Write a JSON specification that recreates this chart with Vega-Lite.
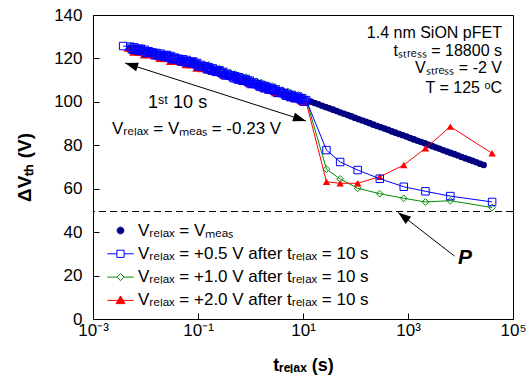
{
 "$schema": "https://vega.github.io/schema/vega-lite/v6.json",
 "width": 420, "height": 304,
 "autosize": {"type": "none"},
 "padding": {"left": 93, "top": 15, "right": 16, "bottom": 70},
 "background": "white",
 "config": {
  "view": {"stroke": "black", "strokeWidth": 1},
  "font": "Liberation Sans",
  "axis": {"domainColor": "black", "tickColor": "black", "labelColor": "black", "titleColor": "black", "grid": false, "labelFont": "Liberation Sans", "titleFont": "Liberation Sans", "titleFontWeight": "bold", "domainWidth": 1, "tickWidth": 1},
  "legend": {"orient": "none", "legendX": 19, "legendY": 207, "padding": 0, "labelFontSize": 17, "labelFont": "Liberation Sans", "labelColor": "black", "rowPadding": 5.3, "symbolSize": 256, "labelOffset": 9, "labelLimit": 400, "symbolOpacity": 1, "symbolStrokeWidth": 1}
 },
 "data": {"values": [
  {"s":"n","t":0.00513,"v":124.7},{"s":"n","t":0.00813,"v":123.5},{"s":"n","t":0.0129,"v":122.4},{"s":"n","t":0.0204,"v":121.2},{"s":"n","t":0.0324,"v":120.1},{"s":"n","t":0.0513,"v":118.9},{"s":"n","t":0.0813,"v":117.6},{"s":"n","t":0.129,"v":116.0},{"s":"n","t":0.204,"v":114.3},{"s":"n","t":0.324,"v":112.7},{"s":"n","t":0.513,"v":111.1},{"s":"n","t":0.813,"v":109.5},{"s":"n","t":1.29,"v":107.9},{"s":"n","t":2.04,"v":106.3},{"s":"n","t":3.24,"v":104.6},{"s":"n","t":5.13,"v":103.0},{"s":"n","t":8.13,"v":101.4},
  {"s":"n","t":14.13,"v":100.1},{"s":"n","t":16.6,"v":99.5},{"s":"n","t":19.5,"v":98.9},{"s":"n","t":22.9,"v":98.2},{"s":"n","t":26.9,"v":97.6},{"s":"n","t":31.6,"v":97.0},{"s":"n","t":37.2,"v":96.4},{"s":"n","t":43.7,"v":95.8},{"s":"n","t":51.3,"v":95.1},{"s":"n","t":60.3,"v":94.5},{"s":"n","t":70.8,"v":93.9},{"s":"n","t":83.2,"v":93.3},{"s":"n","t":97.7,"v":92.6},{"s":"n","t":114.8,"v":92.0},{"s":"n","t":134.9,"v":91.4},{"s":"n","t":158.5,"v":90.8},{"s":"n","t":186.2,"v":90.2},{"s":"n","t":218.8,"v":89.5},{"s":"n","t":257.0,"v":88.9},{"s":"n","t":302.0,"v":88.3},{"s":"n","t":354.8,"v":87.7},{"s":"n","t":416.9,"v":87.1},{"s":"n","t":489.8,"v":86.4},{"s":"n","t":575.4,"v":85.8},{"s":"n","t":676.1,"v":85.2},{"s":"n","t":794.3,"v":84.6},{"s":"n","t":933.3,"v":84.0},{"s":"n","t":1096,"v":83.3},{"s":"n","t":1288,"v":82.7},{"s":"n","t":1514,"v":82.1},{"s":"n","t":1778,"v":81.5},{"s":"n","t":2089,"v":80.9},{"s":"n","t":2455,"v":80.2},{"s":"n","t":2884,"v":79.6},{"s":"n","t":3388,"v":79.0},{"s":"n","t":3981,"v":78.4},{"s":"n","t":4677,"v":77.7},{"s":"n","t":5495,"v":77.1},{"s":"n","t":6457,"v":76.5},{"s":"n","t":7586,"v":75.9},{"s":"n","t":8913,"v":75.3},{"s":"n","t":10471,"v":74.6},{"s":"n","t":12303,"v":74.0},{"s":"n","t":14454,"v":73.4},{"s":"n","t":16982,"v":72.8},{"s":"n","t":19953,"v":72.2},{"s":"n","t":23442,"v":71.5},{"s":"n","t":27542,"v":70.9},
  {"s":"g","t":0.00513,"v":125.8},{"s":"g","t":0.00646,"v":124.7},{"s":"g","t":0.00813,"v":124.7},{"s":"g","t":0.0102,"v":123.5},{"s":"g","t":0.0129,"v":123.3},{"s":"g","t":0.0162,"v":122.9},{"s":"g","t":0.0204,"v":121.8},{"s":"g","t":0.0257,"v":121.8},{"s":"g","t":0.0324,"v":120.6},{"s":"g","t":0.0407,"v":120.4},{"s":"g","t":0.0513,"v":120.0},{"s":"g","t":0.0646,"v":118.9},{"s":"g","t":0.0813,"v":118.8},{"s":"g","t":0.102,"v":117.3},{"s":"g","t":0.129,"v":116.9},{"s":"g","t":0.162,"v":117.0},{"s":"g","t":0.204,"v":115.6},{"s":"g","t":0.257,"v":115.4},{"s":"g","t":0.324,"v":113.9},{"s":"g","t":0.407,"v":113.5},{"s":"g","t":0.513,"v":112.9},{"s":"g","t":0.646,"v":111.6},{"s":"g","t":0.813,"v":111.4},{"s":"g","t":1.02,"v":109.9},{"s":"g","t":1.29,"v":109.5},{"s":"g","t":1.62,"v":108.9},{"s":"g","t":2.04,"v":107.6},{"s":"g","t":2.57,"v":107.3},{"s":"g","t":3.24,"v":105.8},{"s":"g","t":4.07,"v":105.4},{"s":"g","t":5.13,"v":104.8},{"s":"g","t":6.46,"v":103.5},{"s":"g","t":8.13,"v":103.3},{"s":"g","t":10.2,"v":101.8},{"s":"g","t":11.5,"v":101.2},
  {"s":"g","t":28,"v":69.0},{"s":"g","t":51,"v":64.5},{"s":"g","t":110,"v":60.2},{"s":"g","t":290,"v":57.7},{"s":"g","t":830,"v":55.6},{"s":"g","t":2150,"v":53.9},{"s":"g","t":6400,"v":54.5},{"s":"g","t":40000,"v":51.3},
  {"s":"r","t":0.0045,"v":124.6},{"s":"r","t":0.00575,"v":122.7},{"s":"r","t":0.00724,"v":122.6},{"s":"r","t":0.00912,"v":121.4},{"s":"r","t":0.0115,"v":121.4},{"s":"r","t":0.0145,"v":121.0},{"s":"r","t":0.0182,"v":119.8},{"s":"r","t":0.0229,"v":119.7},{"s":"r","t":0.0288,"v":118.5},{"s":"r","t":0.0363,"v":118.5},{"s":"r","t":0.0457,"v":118.1},{"s":"r","t":0.0575,"v":116.9},{"s":"r","t":0.0724,"v":116.8},{"s":"r","t":0.0912,"v":115.4},{"s":"r","t":0.115,"v":115.1},{"s":"r","t":0.145,"v":114.5},{"s":"r","t":0.182,"v":114.0},{"s":"r","t":0.229,"v":113.6},{"s":"r","t":0.288,"v":112.2},{"s":"r","t":0.363,"v":111.9},{"s":"r","t":0.457,"v":111.3},{"s":"r","t":0.575,"v":109.9},{"s":"r","t":0.724,"v":109.6},{"s":"r","t":0.912,"v":108.2},{"s":"r","t":1.15,"v":107.9},{"s":"r","t":1.45,"v":107.3},{"s":"r","t":1.82,"v":105.9},{"s":"r","t":2.29,"v":105.5},{"s":"r","t":2.88,"v":104.1},{"s":"r","t":3.63,"v":103.8},{"s":"r","t":4.57,"v":103.2},{"s":"r","t":5.75,"v":101.8},{"s":"r","t":7.24,"v":101.5},{"s":"r","t":9.12,"v":100.1},{"s":"r","t":11.5,"v":99.8},
  {"s":"r","t":28,"v":63.2},{"s":"r","t":51,"v":62.5},{"s":"r","t":110,"v":62.5},{"s":"r","t":290,"v":65.5},{"s":"r","t":830,"v":70.9},{"s":"r","t":2150,"v":78.6},{"s":"r","t":6400,"v":88.6},{"s":"r","t":40000,"v":76.3},
  {"s":"b","t":0.00375,"v":125.7},{"s":"b","t":0.00513,"v":125.4},{"s":"b","t":0.00575,"v":124.0},{"s":"b","t":0.00646,"v":124.5},{"s":"b","t":0.00724,"v":123.7},{"s":"b","t":0.00813,"v":124.5},{"s":"b","t":0.00912,"v":123.3},{"s":"b","t":0.0102,"v":122.5},{"s":"b","t":0.0115,"v":123.3},{"s":"b","t":0.0129,"v":122.6},{"s":"b","t":0.0145,"v":121.9},{"s":"b","t":0.0162,"v":122.5},{"s":"b","t":0.0182,"v":121.1},{"s":"b","t":0.0204,"v":121.6},{"s":"b","t":0.0229,"v":120.8},{"s":"b","t":0.0257,"v":121.6},{"s":"b","t":0.0288,"v":120.4},{"s":"b","t":0.0324,"v":119.6},{"s":"b","t":0.0363,"v":120.4},{"s":"b","t":0.0407,"v":119.7},{"s":"b","t":0.0457,"v":119.0},{"s":"b","t":0.0513,"v":119.6},{"s":"b","t":0.0575,"v":118.2},{"s":"b","t":0.0646,"v":118.7},{"s":"b","t":0.0724,"v":117.9},{"s":"b","t":0.0813,"v":118.6},{"s":"b","t":0.0912,"v":117.3},{"s":"b","t":0.102,"v":116.3},{"s":"b","t":0.115,"v":117.0},{"s":"b","t":0.129,"v":116.2},{"s":"b","t":0.145,"v":115.4},{"s":"b","t":0.162,"v":115.9},{"s":"b","t":0.182,"v":114.4},{"s":"b","t":0.204,"v":114.7},{"s":"b","t":0.229,"v":113.8},{"s":"b","t":0.257,"v":114.5},{"s":"b","t":0.288,"v":113.2},{"s":"b","t":0.324,"v":112.2},{"s":"b","t":0.363,"v":112.9},{"s":"b","t":0.407,"v":112.1},{"s":"b","t":0.457,"v":111.3},{"s":"b","t":0.513,"v":111.8},{"s":"b","t":0.575,"v":110.3},{"s":"b","t":0.646,"v":110.7},{"s":"b","t":0.724,"v":109.8},{"s":"b","t":0.813,"v":110.5},{"s":"b","t":0.912,"v":109.2},{"s":"b","t":1.02,"v":108.2},{"s":"b","t":1.15,"v":108.9},{"s":"b","t":1.29,"v":108.1},{"s":"b","t":1.45,"v":107.3},{"s":"b","t":1.62,"v":107.8},{"s":"b","t":1.82,"v":106.3},{"s":"b","t":2.04,"v":106.7},{"s":"b","t":2.29,"v":105.7},{"s":"b","t":2.57,"v":106.4},{"s":"b","t":2.88,"v":105.1},{"s":"b","t":3.24,"v":104.1},{"s":"b","t":3.63,"v":104.8},{"s":"b","t":4.07,"v":104.0},{"s":"b","t":4.57,"v":103.2},{"s":"b","t":5.13,"v":103.7},{"s":"b","t":5.75,"v":102.2},{"s":"b","t":6.46,"v":102.6},{"s":"b","t":7.24,"v":101.7},{"s":"b","t":8.13,"v":102.4},{"s":"b","t":9.12,"v":101.1},{"s":"b","t":10.2,"v":100.1},{"s":"b","t":11.5,"v":100.8},
  {"s":"b","t":0.00543,"v":124.4},{"s":"b","t":0.00609,"v":125.1},{"s":"b","t":0.00684,"v":123.7},{"s":"b","t":0.00767,"v":124.1},{"s":"b","t":0.00861,"v":123.5},{"s":"b","t":0.00966,"v":124.0},{"s":"b","t":0.0108,"v":122.6},{"s":"b","t":0.0122,"v":122.7},{"s":"b","t":0.0137,"v":122.7},{"s":"b","t":0.0154,"v":121.5},{"s":"b","t":0.0172,"v":121.5},{"s":"b","t":0.0193,"v":122.2},{"s":"b","t":0.0216,"v":120.8},{"s":"b","t":0.0243,"v":121.2},{"s":"b","t":0.0272,"v":120.6},{"s":"b","t":0.0305,"v":121.1},{"s":"b","t":0.0343,"v":119.7},{"s":"b","t":0.0385,"v":119.8},{"s":"b","t":0.0431,"v":119.8},{"s":"b","t":0.0484,"v":118.6},{"s":"b","t":0.0543,"v":118.6},{"s":"b","t":0.0609,"v":119.3},{"s":"b","t":0.0684,"v":117.9},{"s":"b","t":0.0767,"v":118.2},{"s":"b","t":0.0861,"v":117.5},{"s":"b","t":0.0966,"v":117.9},{"s":"b","t":0.108,"v":116.4},{"s":"b","t":0.122,"v":116.4},{"s":"b","t":0.137,"v":116.3},{"s":"b","t":0.154,"v":115.0},{"s":"b","t":0.172,"v":114.9},{"s":"b","t":0.193,"v":115.4},{"s":"b","t":0.216,"v":113.9},{"s":"b","t":0.243,"v":114.1},{"s":"b","t":0.272,"v":113.4},{"s":"b","t":0.305,"v":113.8},{"s":"b","t":0.343,"v":112.3},{"s":"b","t":0.385,"v":112.3},{"s":"b","t":0.431,"v":112.2},{"s":"b","t":0.484,"v":110.9},{"s":"b","t":0.543,"v":110.8},{"s":"b","t":0.609,"v":111.3},{"s":"b","t":0.684,"v":109.8},{"s":"b","t":0.767,"v":110.1},{"s":"b","t":0.861,"v":109.4},{"s":"b","t":0.966,"v":109.8},{"s":"b","t":1.08,"v":108.3},{"s":"b","t":1.22,"v":108.3},{"s":"b","t":1.37,"v":108.2},{"s":"b","t":1.54,"v":106.9},{"s":"b","t":1.72,"v":106.8},{"s":"b","t":1.93,"v":107.3},{"s":"b","t":2.16,"v":105.7},{"s":"b","t":2.43,"v":106.0},{"s":"b","t":2.72,"v":105.3},{"s":"b","t":3.05,"v":105.7},{"s":"b","t":3.43,"v":104.2},{"s":"b","t":3.85,"v":104.2},{"s":"b","t":4.31,"v":104.1},{"s":"b","t":4.84,"v":102.8},{"s":"b","t":5.43,"v":102.7},{"s":"b","t":6.09,"v":103.2},{"s":"b","t":6.84,"v":101.7},{"s":"b","t":7.67,"v":102.0},{"s":"b","t":8.61,"v":101.3},{"s":"b","t":9.66,"v":101.7},{"s":"b","t":10.8,"v":100.2},
  {"s":"b","t":28,"v":77.8},{"s":"b","t":51,"v":72.3},{"s":"b","t":110,"v":68.6},{"s":"b","t":290,"v":64.6},{"s":"b","t":830,"v":60.9},{"s":"b","t":2150,"v":58.8},{"s":"b","t":6400,"v":56.6},{"s":"b","t":40000,"v":53.9}
 ]},
 "encoding": {
  "x": {"field": "t", "type": "quantitative", "scale": {"type": "log", "domain": [0.001, 100000], "nice": false},
   "axis": {"values": [0.001, 0.1, 10, 1000, 100000], "labelExpr": "datum.value===0.001?'10⁻³':datum.value===0.1?'10⁻¹':datum.value===10?'10¹':datum.value===1000?'10³':'10⁵'", "title": "tᵣₑₗₐₓ (s)", "tickSize": -6, "labelPadding": 9, "titlePadding": 18, "labelFontSize": 17, "titleFontSize": 18, "labelFlush": false, "labelOverlap": false}},
  "y": {"field": "v", "type": "quantitative", "scale": {"domain": [0, 140], "nice": false},
   "axis": {"values": [0, 20, 40, 60, 80, 100, 120, 140], "title": "ΔVₜₕ (V)", "tickSize": -6, "labelPadding": 17, "titlePadding": 19, "labelFontSize": 17, "titleFontSize": 19}}
 },
 "layer": [
  {"transform": [{"filter": "datum.s==='n'"}],
   "mark": {"type": "point", "filled": true, "shape": "circle", "size": 44, "opacity": 1, "color": "#000080"}},
  {"transform": [{"filter": "datum.s==='g'"}], "mark": {"type": "line", "strokeWidth": 1, "color": "#008c00"}},
  {"transform": [{"filter": "datum.s==='g'"}], "mark": {"type": "point", "filled": false, "shape": "diamond", "size": 45, "strokeWidth": 1, "opacity": 1, "color": "#008c00"}},
  {"transform": [{"filter": "datum.s==='r'"}], "mark": {"type": "line", "strokeWidth": 1, "color": "#ff0000"}},
  {"transform": [{"filter": "datum.s==='r'"}], "mark": {"type": "point", "filled": true, "shape": "triangle-up", "size": 55, "opacity": 1, "color": "#ff0000"}},
  {"transform": [{"filter": "datum.s==='b'"}], "mark": {"type": "line", "strokeWidth": 1, "color": "#0000ff"}},
  {"transform": [{"filter": "datum.s==='b'"}], "mark": {"type": "point", "filled": false, "shape": "square", "size": 56, "strokeWidth": 1, "opacity": 1, "color": "#0000ff"}},
  {"transform": [{"filter": "datum.t===40000"}],
   "mark": {"type": "point", "filled": true, "opacity": 0},
   "encoding": {
    "shape": {"field": "s", "type": "nominal", "scale": {"domain": ["n", "b", "g", "r"], "range": ["M0.42,0A0.42,0.42,0,1,1,-0.42,0A0.42,0.42,0,1,1,0.42,0Z", "M-1.65,0H-0.45M-0.45,-0.45H0.45V0.45H-0.45ZM0.45,0H1.65", "M-1.65,0H-0.45M-0.45,0L0,-0.45L0.45,0L0,0.45ZM0.45,0H1.65", "M-1.65,0H1.65M0,-0.55L0.55,0.4L-0.55,0.4Z"]},
     "legend": {"title": null, "labelExpr": "datum.value==='n'?'Vᵣₑₗₐₓ = Vₘₑₐₛ':datum.value==='b'?'Vᵣₑₗₐₓ = +0.5 V after tᵣₑₗₐₓ = 10 s':datum.value==='g'?'Vᵣₑₗₐₓ = +1.0 V after tᵣₑₗₐₓ = 10 s':'Vᵣₑₗₐₓ = +2.0 V after tᵣₑₗₐₓ = 10 s'"}},
    "fill": {"field": "s", "type": "nominal", "scale": {"domain": ["n", "b", "g", "r"], "range": ["#000080", "white", "white", "#ff0000"]},
     "legend": {"title": null, "labelExpr": "datum.value==='n'?'Vᵣₑₗₐₓ = Vₘₑₐₛ':datum.value==='b'?'Vᵣₑₗₐₓ = +0.5 V after tᵣₑₗₐₓ = 10 s':datum.value==='g'?'Vᵣₑₗₐₓ = +1.0 V after tᵣₑₗₐₓ = 10 s':'Vᵣₑₗₐₓ = +2.0 V after tᵣₑₗₐₓ = 10 s'"}},
    "stroke": {"field": "s", "type": "nominal", "scale": {"domain": ["n", "b", "g", "r"], "range": ["#000080", "#0000ff", "#008c00", "#ff0000"]},
     "legend": {"title": null, "labelExpr": "datum.value==='n'?'Vᵣₑₗₐₓ = Vₘₑₐₛ':datum.value==='b'?'Vᵣₑₗₐₓ = +0.5 V after tᵣₑₗₐₓ = 10 s':datum.value==='g'?'Vᵣₑₗₐₓ = +1.0 V after tᵣₑₗₐₓ = 10 s':'Vᵣₑₗₐₓ = +2.0 V after tᵣₑₗₐₓ = 10 s'"}}
   }},
  {"data": {"values": [{"v": 49.5}]}, "mark": {"type": "rule", "color": "black", "strokeWidth": 1, "strokeDash": [7, 4]}, "encoding": {"x": null, "y": {"field": "v", "type": "quantitative"}}},
  {"data": {"values": [{"t": 0.00409, "v": 117.9, "t2": 11.4, "v2": 91.2}, {"t": 7660, "v": 29.0, "t2": 649, "v2": 49.1}]},
   "mark": {"type": "rule", "color": "black", "strokeWidth": 1},
   "encoding": {"x2": {"field": "t2"}, "y2": {"field": "v2"}}},
  {"data": {"values": [{"t": 0.00409, "v": 117.9}]}, "mark": {"type": "point", "filled": true, "color": "black", "opacity": 1, "size": 400, "shape": "M0,0L1.3,-0.45L1.3,0.45Z", "angle": 17.8}},
  {"data": {"values": [{"t": 11.4, "v": 91.2}]}, "mark": {"type": "point", "filled": true, "color": "black", "opacity": 1, "size": 400, "shape": "M0,0L-1.3,-0.45L-1.3,0.45Z", "angle": 17.8}},
  {"data": {"values": [{"t": 649, "v": 49.1}]}, "mark": {"type": "point", "filled": true, "color": "black", "opacity": 1, "size": 400, "shape": "M0,0L1.3,-0.45L1.3,0.45Z", "angle": 37.8}},
  {"data": {"values": [{"t": 61700, "v": 131.5, "label": "1.4 nm SiON pFET"}, {"t": 61700, "v": 123.4, "label": "tₛₜᵣₑₛₛ = 18800 s"}, {"t": 61700, "v": 115.6, "label": "Vₛₜᵣₑₛₛ = -2 V"}, {"t": 61700, "v": 106.6, "label": "T = 125 ᵒC"}]},
   "mark": {"type": "text", "align": "right", "baseline": "middle", "fontSize": 16, "font": "Liberation Sans", "color": "black"},
   "encoding": {"text": {"field": "label"}}},
  {"data": {"values": [{"t": 0.01117, "v": 99.5, "label": "1ˢᵗ 10 s"}]},
   "mark": {"type": "text", "align": "left", "baseline": "middle", "fontSize": 18, "font": "Liberation Sans", "color": "black"},
   "encoding": {"text": {"field": "label"}}},
  {"data": {"values": [{"t": 0.0023, "v": 87.3, "label": "Vᵣₑₗₐₓ = Vₘₑₐₛ = -0.23 V"}]},
   "mark": {"type": "text", "align": "left", "baseline": "middle", "fontSize": 17, "font": "Liberation Sans", "color": "black"},
   "encoding": {"text": {"field": "label"}}},
  {"data": {"values": [{"t": 8950, "v": 28.3, "label": "P"}]},
   "mark": {"type": "text", "align": "left", "baseline": "middle", "fontSize": 21, "fontWeight": "bold", "fontStyle": "italic", "font": "Liberation Sans", "color": "black"},
   "encoding": {"text": {"field": "label"}}}
 ]
}
